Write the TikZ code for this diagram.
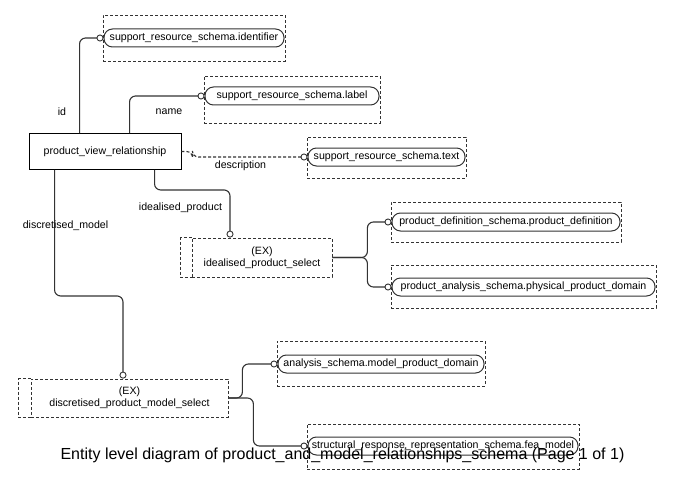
\documentclass[tikz,border=0pt]{standalone}
\usepackage{fontspec}
\setmainfont{Liberation Sans}
\usetikzlibrary{arrows.meta,calc}

\begin{document}
\begin{tikzpicture}[x=1pt,y=-1pt,
  every node/.style={font=\fontsize{10.6}{12}\selectfont, inner sep=0pt},
  entitybox/.style={draw=black, line width=0.9pt, minimum width=152pt, minimum height=36pt},
  groupbox/.style={draw=black!80, dash pattern=on 3pt off 2pt, line width=0.8pt},
  capsule/.style={draw=black!80, line width=1pt, rounded corners=8.5pt, minimum height=18pt},
  selbox/.style={groupbox, align=center},
  link/.style={draw=black!80, line width=1.1pt, rounded corners=6pt,
    -{Circle[open,length=7pt,width=7pt,line width=0.9pt]}},
  dashlink/.style={link, dash pattern=on 3pt off 2pt},
  rolelabel/.style={text=black},
]
\useasboundingbox (0,0) rectangle (685,492);

% central entity
\node[entitybox] (ent) at (105,151.5) {product\_view\_relationship};

% referenced types in their schema groups
\node[groupbox, minimum width=182pt, minimum height=46pt] (gid) at (194,38) {};
\node[capsule, minimum width=180pt] (idcap) at (194,38) {support\_resource\_schema.identifier};

\node[groupbox, minimum width=176pt, minimum height=47pt] (glab) at (292,99.5) {};
\node[capsule, minimum width=174pt] (labcap) at (292,96) {support\_resource\_schema.label};

\node[groupbox, minimum width=159pt, minimum height=41pt] (gtxt) at (386.5,157.5) {};
\node[capsule, minimum width=157pt] (txtcap) at (386.5,157) {support\_resource\_schema.text};

\node[groupbox, minimum width=230pt, minimum height=40pt] (gpd) at (506,222) {};
\node[capsule, minimum width=228pt] (pdcap) at (506,222) {product\_definition\_schema.product\_definition};

\node[groupbox, minimum width=265pt, minimum height=43pt] (gpa) at (523.5,286.5) {};
\node[capsule, minimum width=263pt] (pacap) at (523.5,287) {product\_analysis\_schema.physical\_product\_domain};

\node[groupbox, minimum width=208pt, minimum height=45pt] (gan) at (381,363.5) {};
\node[capsule, minimum width=206pt] (ancap) at (381,364) {analysis\_schema.model\_product\_domain};

\node[groupbox, minimum width=272pt, minimum height=45pt] (gst) at (443,446.5) {};
\node[capsule, minimum width=270pt] (stcap) at (443,446) {structural\_response\_representation\_schema.fea\_model};

% select types
\node[selbox, minimum width=140pt, minimum height=39pt] (isel) at (262,257.5) {(EX)\\idealised\_product\_select};
\draw[groupbox] (isel.north west) -- ++(-11,0) |- (isel.south west);

\node[selbox, minimum width=197pt, minimum height=38pt] (dsel) at (129.5,398) {(EX)\\discretised\_product\_model\_select};
\draw[groupbox] (dsel.north west) -- ++(-12,0) |- (dsel.south west);

% attribute links
\draw[link] ($(ent.north west)+(51,0)$) |- (idcap.west);
\draw[link] ($(ent.north west)+(101,0)$) |- (labcap.west);
\draw[dashlink] (ent.east) -- ++(11,0) |- (txtcap.west);
\draw[link] ($(ent.south west)+(126,0)$) -- ++(0,20) -| ([xshift=-32pt]isel.north);
\draw[link] ($(ent.south west)+(26,0)$) -- ++(0,126) -| ([xshift=-6.5pt]dsel.north);

% select branches
\draw[link] (isel.east) -- ++(35,0) |- (pdcap.west);
\draw[link] (isel.east) -- ++(35,0) |- (pacap.west);
\draw[link] (dsel.east) -- ++(14,0) |- (ancap.west);
\draw[link] (dsel.east) -- ++(25,0) |- (stcap.west);

% role names
\node[rolelabel] (lid) at (62,112) {id};
\node[rolelabel] (lname) at (169,112) {name};
\node[rolelabel] (ldesc) at (240.5,166) {description};
\node[rolelabel] (lideal) at (180.5,207.5) {idealised\_product};
\node[rolelabel] (ldisc) at (65.5,226) {discretised\_model};

% caption
\node[font=\fontsize{16}{19}\selectfont] (caption) at (342.5,455) {Entity level diagram of product\_and\_model\_relationships\_schema (Page 1 of 1)};
\end{tikzpicture}
\end{document}
